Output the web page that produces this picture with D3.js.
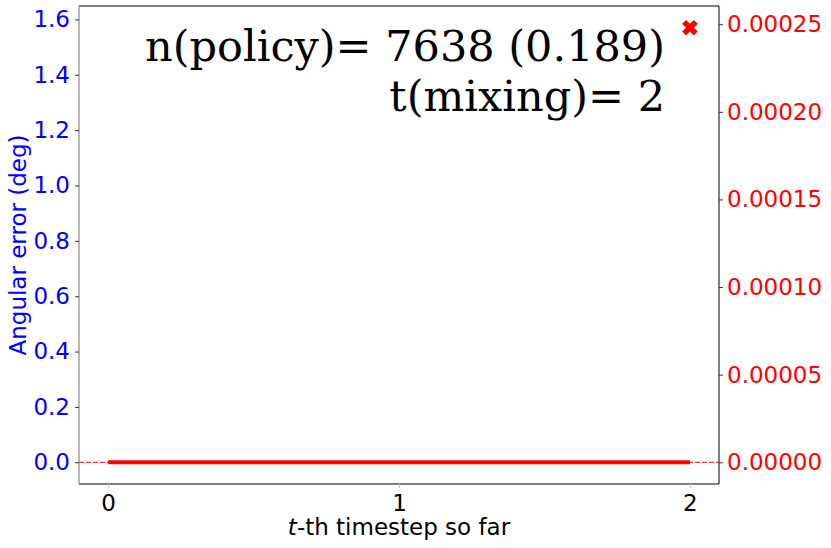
<!DOCTYPE html>
<html><head><meta charset="utf-8">
<script src="https://cdn.jsdelivr.net/npm/d3@7"></script>
<style>body{margin:0;background:#fff}svg{display:block}</style>
</head><body>
<script>
const steps = [0, 1, 2];
const errorValues = [0, 0, 0];
const markerStep = [2];
const markerValue = [0.000248];
const xTicks = [0, 1, 2];
const leftTicks = [0.0, 0.2, 0.4, 0.6, 0.8, 1.0, 1.2, 1.4, 1.6];
const rightTicks = [0, 0.00005, 0.0001, 0.00015, 0.0002, 0.00025];
const annotation = ["n(policy)= 7638 (0.189)", "t(mixing)= 2"];

const W = 831, H = 548;
const L = 79, R = 719, T = 6, B = 484;
const svg = d3.select("body").append("svg").attr("width", W).attr("height", H);

const x = d3.scaleLinear().domain([-0.1, 2.1]).range([L, R]);
const yL = d3.scaleLinear().domain([-0.0785, 1.6485]).range([B, T]);
const yR = d3.scaleLinear().domain([-0.0000124, 0.0002604]).range([B, T]);

// dashed zero line
svg.append("line").attr("x1", L).attr("x2", R).attr("y1", yL(0)).attr("y2", yL(0))
  .attr("stroke", "red").attr("stroke-width", 1).attr("stroke-dasharray", "5,2");

// thick line
svg.append("path").datum(steps.map((s, i) => [s, errorValues[i]]))
  .attr("d", d3.line().x(d => x(d[0])).y(d => yR(d[1])))
  .attr("stroke", "red").attr("stroke-width", 4).attr("fill", "none");

// marker X
const xs = d3.symbol().type(d3.symbolCross).size(150);
svg.selectAll(".mk").data(markerStep.map((s, i) => [s, markerValue[i]])).enter()
  .append("path").attr("d", xs)
  .attr("transform", d => `translate(${x(d[0])},${yR(d[1])}) rotate(45)`)
  .attr("fill", "red");

// frame
svg.append("line").attr("x1", L).attr("x2", R).attr("y1", T).attr("y2", T).attr("stroke", "#000").attr("stroke-width", 1);
svg.append("line").attr("x1", L).attr("x2", R).attr("y1", B).attr("y2", B).attr("stroke", "#000").attr("stroke-width", 1);
svg.append("line").attr("x1", R).attr("x2", R).attr("y1", T).attr("y2", B).attr("stroke", "#000").attr("stroke-width", 1);
svg.append("line").attr("x1", L).attr("x2", L).attr("y1", T).attr("y2", B).attr("stroke", "#888").attr("stroke-width", 1.2);

const fontSans = "DejaVu Sans, sans-serif";
const fs = 23;

// x axis
const gx = svg.append("g").attr("transform", `translate(0,${B})`)
  .call(d3.axisBottom(x).tickValues(xTicks).tickFormat(d3.format("d")).tickSize(4).tickPadding(7));
gx.select(".domain").remove();
gx.selectAll("line").attr("stroke", "#ccc");
gx.selectAll("text").attr("font-family", fontSans).attr("font-size", fs).attr("fill", "#000");

// left axis
const gl = svg.append("g").attr("transform", `translate(${L},0)`)
  .call(d3.axisLeft(yL).tickValues(leftTicks).tickFormat(d3.format(".1f")).tickSize(4).tickPadding(5));
gl.select(".domain").remove();
gl.selectAll("line").attr("stroke", "#333");
gl.selectAll("text").attr("font-family", fontSans).attr("font-size", fs).attr("fill", "blue");

// right axis
const gr = svg.append("g").attr("transform", `translate(${R},0)`)
  .call(d3.axisRight(yR).tickValues(rightTicks).tickFormat(d3.format(".5f")).tickSize(4).tickPadding(4));
gr.select(".domain").remove();
gr.selectAll("line").attr("stroke", "#333");
gr.selectAll("text").attr("font-family", fontSans).attr("font-size", fs).attr("fill", "red");

// axis labels
const xl = svg.append("text").attr("x", (L + R) / 2).attr("y", 535).attr("text-anchor", "middle")
  .attr("font-family", fontSans).attr("font-size", fs).attr("fill", "#000");
xl.append("tspan").attr("font-style", "italic").text("t");
xl.append("tspan").text("-th timestep so far");

svg.append("text").attr("transform", `translate(26,${(T + B) / 2}) rotate(-90)`)
  .attr("text-anchor", "middle").attr("font-family", fontSans).attr("font-size", fs)
  .attr("fill", "blue").text("Angular error (deg)");

// annotation
svg.selectAll(".ann").data(annotation).enter().append("text")
  .attr("x", 665).attr("y", (d, i) => 61 + i * 50).attr("text-anchor", "end")
  .attr("font-family", "DejaVu Serif, serif").attr("font-size", 43).attr("fill", "#000")
  .text(d => d);
</script>
</body></html>
